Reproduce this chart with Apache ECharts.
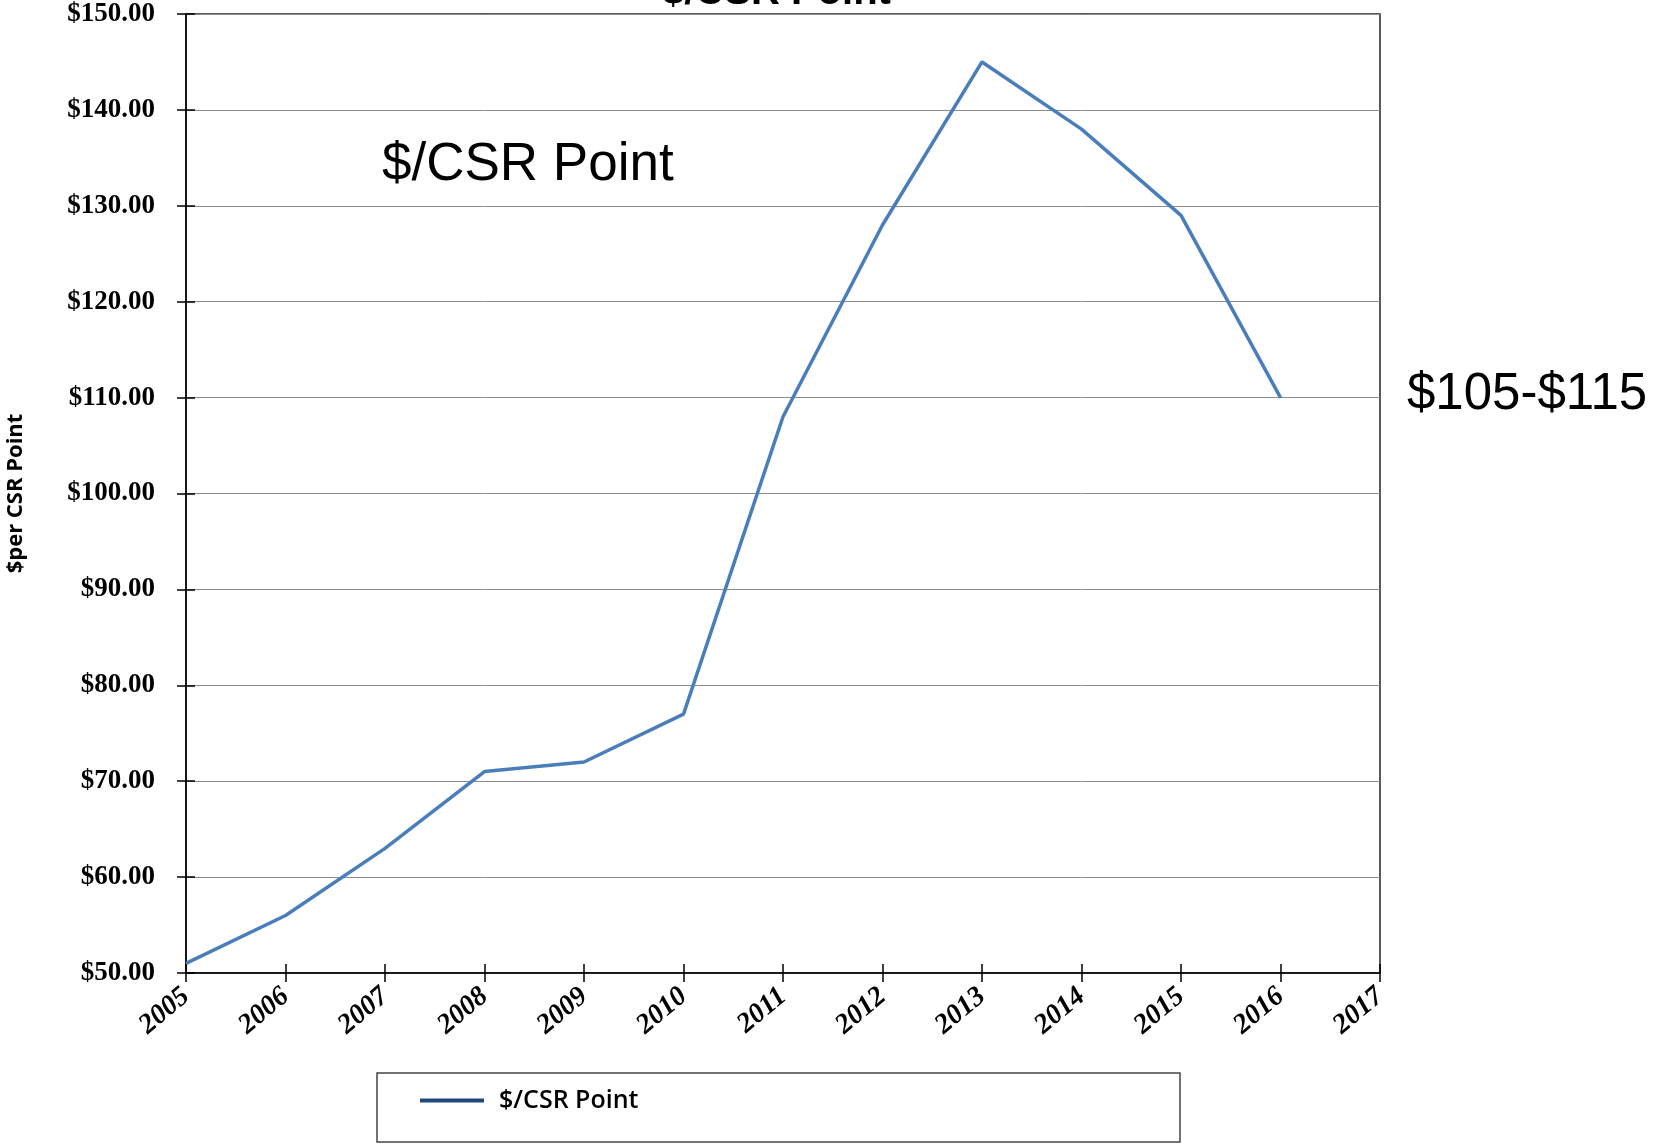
<!DOCTYPE html>
<html>
<head>
<meta charset="utf-8">
<script src="https://cdn.jsdelivr.net/npm/echarts@6/dist/echarts.min.js"></script>
<style>
  html, body { margin: 0; padding: 0; background: #fff; }
  #main { width: 1655px; height: 1144px; }
</style>
</head>
<body>
<div id="main"></div>
<script>
// 数据
var years  = ['2005','2006','2007','2008','2009','2010','2011','2012','2013','2014','2015','2016','2017'];
var prices = [51, 56, 63, 71, 72, 77, 108, 128, 145, 138, 129, 110, null];
var seriesName = '$/CSR Point';

var chart = echarts.init(document.getElementById('main'));

var labelFont = '"Liberation Serif", "Times New Roman", serif';

var option = {
    animation: false,
    grid: {
        left: 186,
        right: 275,
        top: 14,
        bottom: 171,
        outerBoundsMode: 'none',
        show: true,
        borderColor: '#222',
        borderWidth: 1.5
    },
    graphic: [
        // 图表标题(被截掉上半部分)
        {
            type: 'text',
            left: 662,
            top: -27,
            style: {
                text: '$/CSR Point',
                font: 'bold 40px "Liberation Sans", Arial, sans-serif',
                fill: '#000'
            }
        },
        {
            type: 'text',
            left: 382,
            top: 139,
            style: {
                text: '$/CSR Point',
                font: '53px "Liberation Sans", Arial, sans-serif',
                fill: '#000'
            }
        },
        {
            type: 'text',
            left: 1407,
            top: 369,
            style: {
                text: '$105-$115',
                font: '51px "Liberation Sans", Arial, sans-serif',
                fill: '#000'
            }
        },
        // 图例外框
        {
            type: 'rect',
            shape: { x: 377, y: 1073, width: 803, height: 69 },
            style: { fill: 'none', stroke: '#444', lineWidth: 1.5 }
        }
    ],
    legend: {
        left: 415,
        top: 1083,
        data: [seriesName],
        itemWidth: 64,
        itemHeight: 4,
        icon: 'rect',
        itemStyle: { color: '#1f497d' },
        textStyle: {
            fontFamily: '"Open Sans", sans-serif',
            fontWeight: 600,
            fontSize: 25,
            color: '#000',
            padding: [0, 0, 0, 10]
        }
    },
    xAxis: [{
        type: 'category',
        data: years,
        boundaryGap: false,
        axisLine: { lineStyle: { color: '#000', width: 1.5 } },
        axisTick: { length: 9, lineStyle: { color: '#000', width: 1.5 } },
        axisLabel: {
            rotate: 40,
            margin: 20,
            color: '#000',
            fontFamily: labelFont,
            fontWeight: 'bold',
            fontStyle: 'italic',
            fontSize: 28
        },
        splitLine: { show: false }
    }, {
        type: 'category',
        data: years,
        boundaryGap: false,
        position: 'bottom',
        axisLine: { show: false },
        axisTick: { inside: true, length: 9, lineStyle: { color: '#000', width: 1.5 } },
        axisLabel: { show: false }
    }],
    yAxis: [{
        type: 'value',
        min: 50,
        max: 150,
        interval: 10,
        name: '$per CSR Point',
        nameLocation: 'middle',
        nameGap: 159,
        nameTextStyle: {
            fontFamily: '"Open Sans", sans-serif',
            fontWeight: 'bold',
            fontSize: 22,
            color: '#000'
        },
        axisLine: { show: true, lineStyle: { color: '#000', width: 1.5 } },
        axisTick: { show: true, length: 9, lineStyle: { color: '#000', width: 1.5 } },
        axisLabel: {
            margin: 31,
            color: '#000',
            fontFamily: labelFont,
            fontWeight: 'bold',
            fontSize: 27,
            formatter: function (v) { return '$' + v.toFixed(2); }
        },
        splitLine: { lineStyle: { color: '#8c8c8c', width: 1 } }
    }, {
        type: 'value',
        min: 50,
        max: 150,
        interval: 10,
        position: 'left',
        axisLine: { show: false },
        axisTick: { show: true, inside: true, length: 9, lineStyle: { color: '#000', width: 1.5 } },
        axisLabel: { show: false },
        splitLine: { show: false }
    }],
    series: [{
        name: seriesName,
        type: 'line',
        data: prices,
        showSymbol: false,
        symbol: 'none',
        lineStyle: { color: '#4a7ebb', width: 3.5 },
        itemStyle: { color: '#4a7ebb' }
    }]
};

chart.setOption(option);
</script>
</body>
</html>
